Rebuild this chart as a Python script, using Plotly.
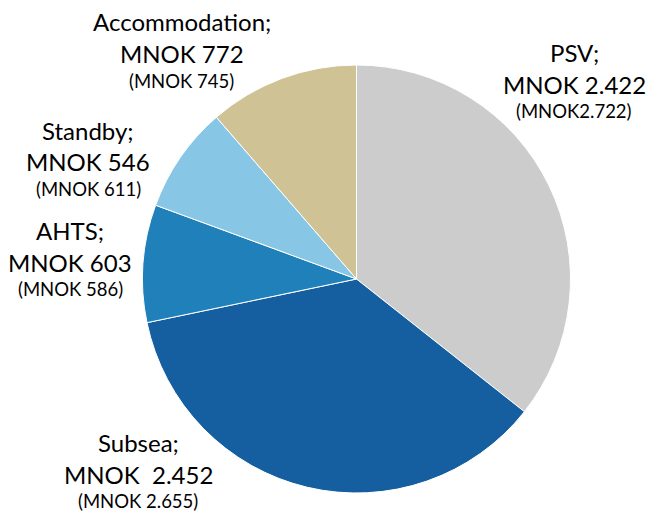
import plotly.graph_objects as go

# Segment revenue, MNOK (current year) with prior-year figures in brackets
segments = ["PSV", "Subsea", "AHTS", "Standby", "Accommodation"]
revenue = [2422, 2452, 603, 546, 772]
prior_revenue = [2722, 2655, 586, 611, 745]
colors = ["#cccccc", "#155fa0", "#1f80ba", "#87c6e4", "#cfc396"]

FONT = "Lato"
W, H = 647, 521


def nok(v):
    # Norwegian thousands separator
    return f"{v:,}".replace(",", ".")


# label anchor centres in pixels (x, y of first line)
label_pos = {
    "PSV": (574, 52),
    "Subsea": (138, 442),
    "AHTS": (70, 230),
    "Standby": (88, 130),
    "Accommodation": (182, 22),
}
value_sep = {"Subsea": "\u00a0\u00a0"}
prior_sep = {"PSV": ""}

fig = go.Figure(
    go.Pie(
        labels=segments,
        values=revenue,
        sort=False,
        direction="clockwise",
        rotation=0,
        marker=dict(colors=colors, line=dict(color="white", width=1)),
        textinfo="none",
        hoverinfo="label+value",
        domain=dict(x=[(356.5 - 214) / W, (356.5 + 214) / W],
                    y=[1 - (279 + 214) / H, 1 - (279 - 214) / H]),
        showlegend=False,
    )
)

annotations = []
for name, val, prev in zip(segments, revenue, prior_revenue):
    x, y = label_pos[name]
    sep = value_sep.get(name, " ")
    psep = prior_sep.get(name, " ")
    lines = [
        (f"{name};", 24, 0),
        (f"MNOK{sep}{nok(val)}", 24, 32),
        (f"(MNOK{psep}{nok(prev)})", 18.5, 59),
    ]
    for text, size, dy in lines:
        annotations.append(dict(
            x=x / W, y=1 - (y + dy) / H, xref="paper", yref="paper",
            text=text, showarrow=False, xanchor="center", yanchor="middle",
            font=dict(family=FONT, size=size, color="#000000"),
        ))

fig.update_layout(
    width=W, height=H,
    margin=dict(l=0, r=0, t=0, b=0),
    paper_bgcolor="white",
    plot_bgcolor="white",
    annotations=annotations,
)

fig.write_html("out.html")
